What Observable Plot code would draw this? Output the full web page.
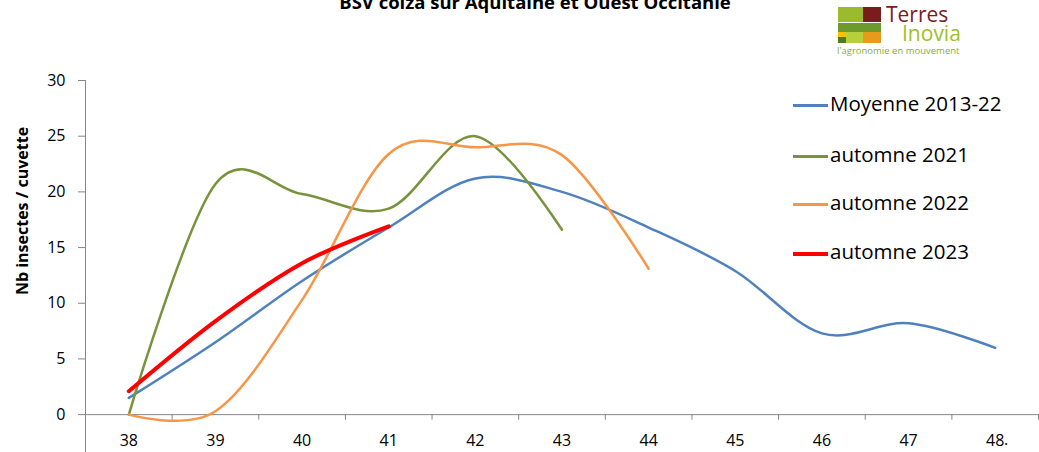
<!DOCTYPE html>
<html><head><meta charset="utf-8">
<script src="https://cdn.jsdelivr.net/npm/d3@7"></script>
<script src="https://cdn.jsdelivr.net/npm/@observablehq/plot@0.6"></script>
<style>
html,body{margin:0;padding:0;background:#fff;}
#wrap{position:relative;width:1039px;height:452px;overflow:hidden;font-family:"Open Sans",sans-serif;color:#000;}
#wrap svg{position:absolute;left:0;top:0;}
.title{position:absolute;left:0;width:1070px;text-align:center;top:-7px;font-size:18.5px;line-height:18px;font-weight:bold;white-space:nowrap;}
.ytitle{position:absolute;left:22px;top:211px;transform:translate(-50%,-50%) rotate(-90deg);font-size:16px;font-weight:bold;white-space:nowrap;}
.leg{position:absolute;left:793px;font-size:20.5px;line-height:22px;white-space:nowrap;}
.leg span.sw{display:inline-block;width:35px;vertical-align:middle;margin-right:2px;}
.logo div{position:absolute;}
</style></head><body><div id="wrap"></div>
<script>
const weeks = [38, 39, 40, 41, 42, 43, 44, 45, 46, 47, 48];
const moyenne = [1.5, 6.5, 12.0, 16.8, 21.2, 20.0, 16.8, 12.9, 7.3, 8.2, 6.0];
const automne2021 = [0, 20.7, 19.8, 18.5, 25.0, 16.6];
const automne2022 = [0, 0.3, 10.3, 23.4, 24.0, 23.3, 13.1];
const automne2023 = [2.1, 8.4, 13.6, 16.9];
const seriesNames = ["Moyenne 2013-22", "automne 2021", "automne 2022", "automne 2023"];
const seriesColors = ["#4f81bd", "#77933c", "#f79646", "#ff0000"];
const seriesWidths = [2.5, 2.5, 2.5, 4];
const yTicks = [0, 5, 10, 15, 20, 25, 30];
const titleText = "BSV colza sur Aquitaine et Ouest Occitanie";
const yLabel = "Nb insectes / cuvette";

const allSeries = [moyenne, automne2021, automne2022, automne2023];
const rows = allSeries.flatMap((vals, i) => vals.map((v, j) => ({week: weeks[j], value: v, series: seriesNames[i]})));
const halfTicks = weeks.map(w => w + 0.5);
const yMin = -3.4;
const axisColor = "#868686";

const chart = Plot.plot({
  width: 1039, height: 452,
  marginLeft: 85, marginRight: 1, marginTop: 80, marginBottom: 0,
  x: {domain: [37.5, 48.5], axis: null},
  y: {domain: [yMin, 30], axis: null},
  style: {fontFamily: "'Open Sans', sans-serif", fontSize: "16px", color: "#000", background: "transparent"},
  marks: [
    Plot.ruleX([37.5], {y1: yMin, y2: 30, stroke: axisColor, strokeWidth: 1}),
    Plot.ruleY([0], {x1: 37.5, x2: 48.5, stroke: axisColor, strokeWidth: 1}),
    Plot.ruleX(halfTicks, {x: d => d, y1: 0, y2: -0.5, stroke: axisColor}),
    Plot.axisY({ticks: yTicks, tickSize: 7, tickPadding: 13, stroke: axisColor, fill: "#000", label: null, fontSize: 16}),
    Plot.text(weeks, {x: d => d, y: 0, dy: 26, text: d => String(d), fill: "#000", fontSize: 16}),
    ...seriesNames.map((name, i) => Plot.line(rows.filter(r => r.series === name), {
      x: "week", y: "value", stroke: seriesColors[i], strokeWidth: seriesWidths[i], curve: "cardinal", strokeLinecap: "round"
    }))
  ]
});

const wrap = document.getElementById("wrap");
wrap.appendChild(chart);

const t = document.createElement("div"); t.className = "title"; t.textContent = titleText; wrap.appendChild(t);
const yl = document.createElement("div"); yl.className = "ytitle"; yl.textContent = yLabel; wrap.appendChild(yl);

const legY = [104, 155, 203, 252];
seriesNames.forEach((name, i) => {
  const d = document.createElement("div"); d.className = "leg"; d.style.top = (legY[i] - 12) + "px";
  const sw = document.createElement("span"); sw.className = "sw";
  sw.style.height = (i === 3 ? 4 : 3) + "px"; sw.style.background = seriesColors[i];
  d.appendChild(sw); d.appendChild(document.createTextNode(name)); wrap.appendChild(d);
});

// logo
const logo = document.createElement("div"); logo.className = "logo";
const blocks = [
  [838, 7, 25, 15, "#9cbb2c"], [863, 7, 18, 15, "#7b1c1c"],
  [838, 23, 43, 9, "#6e9a2c"],
  [838, 32, 8, 5, "#f2c500"], [838, 37, 8, 6, "#4f7a22"],
  [846, 32, 17, 11, "#b8cf3c"], [863, 32, 18, 11, "#e89a1a"]
];
blocks.forEach(b => { const e = document.createElement("div"); e.style.cssText = `left:${b[0]}px;top:${b[1]}px;width:${b[2]}px;height:${b[3]}px;background:${b[4]};`; logo.appendChild(e); });
const t1 = document.createElement("div"); t1.textContent = "Terres"; t1.style.cssText = "left:886px;top:5px;font-size:21px;line-height:18px;color:#7b1c1c;font-family:'Open Sans',sans-serif;";
const t2 = document.createElement("div"); t2.textContent = "Inovia"; t2.style.cssText = "left:902px;top:24px;font-size:21px;line-height:18px;color:#9cbf2a;font-family:'Open Sans',sans-serif;";
const t3 = document.createElement("div"); t3.textContent = "l'agronomie en mouvement"; t3.style.cssText = "left:837px;top:45px;font-size:9.5px;line-height:11px;color:#8ab02a;white-space:nowrap;font-family:'Open Sans',sans-serif;";
logo.appendChild(t1); logo.appendChild(t2); logo.appendChild(t3);
wrap.appendChild(logo);

const dot = document.createElement("div"); dot.textContent = "."; dot.style.cssText = "position:absolute;left:1004px;top:430px;font-size:16px;line-height:18px;";
wrap.appendChild(dot);
</script>
</body></html>
